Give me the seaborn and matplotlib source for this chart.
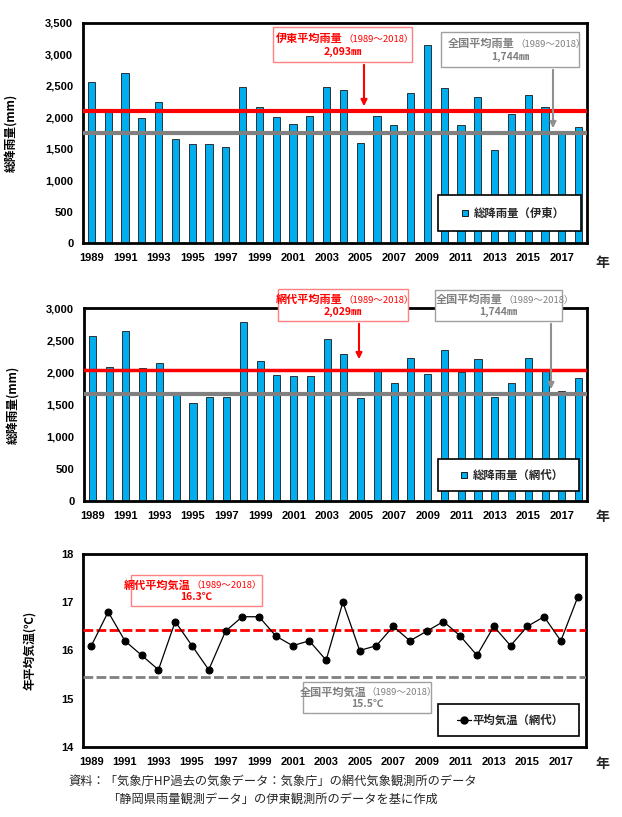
import matplotlib
matplotlib.use("Agg")
import matplotlib.pyplot as plt
import seaborn as sns
import pandas as pd
from matplotlib.patches import Rectangle, FancyArrowPatch
from matplotlib.lines import Line2D

# ---------------- data ----------------
years = list(range(1989, 2019))
ito_rain = [2560, 2080, 2700, 1990, 2250, 1650, 1580, 1570, 1530, 2480,
            2170, 2000, 1890, 2020, 2480, 2430, 1590, 2020, 1870, 2390,
            3150, 2460, 1880, 2330, 1480, 2060, 2350, 2160, 1780, 1850]
ajiro_rain = [2560, 2080, 2640, 2070, 2150, 1700, 1520, 1610, 1610, 2780,
              2170, 1960, 1950, 1940, 2520, 2290, 1600, 2050, 1840, 2230,
              1980, 2350, 2010, 2200, 1610, 1840, 2230, 2020, 1710, 1910]
ajiro_temp = [16.1, 16.8, 16.2, 15.9, 15.6, 16.6, 16.1, 15.6, 16.4, 16.7,
              16.7, 16.3, 16.1, 16.2, 15.8, 17.0, 16.0, 16.1, 16.5, 16.2,
              16.4, 16.6, 16.3, 15.9, 16.5, 16.1, 16.5, 16.7, 16.2, 17.1]
ito_avg_line = 2093
ito_nat_line = 1750
ajiro_avg_line = 2029
ajiro_nat_line = 1670
temp_avg_line = 16.43
temp_nat_line = 15.46

ito_avg_text = ["伊東平均雨量", "（1989～2018）", "2,093㎜"]
ajiro_avg_text = ["網代平均雨量", "（1989～2018）", "2,029㎜"]
nat_rain_text = ["全国平均雨量", "（1989～2018）", "1,744㎜"]
temp_avg_text = ["網代平均気温", "（1989～2018）", "16.3℃"]
nat_temp_text = ["全国平均気温", "（1989～2018）", "15.5℃"]
rain_yticks = [0, 500, 1000, 1500, 2000, 2500, 3000, 3500]
rain_yticks2 = [0, 500, 1000, 1500, 2000, 2500, 3000]
temp_yticks = [14, 15, 16, 17, 18]
footer = ["資料：「気象庁HP過去の気象データ：気象庁」の網代気象観測所のデータ",
          "「静岡県雨量観測データ」の伊東観測所のデータを基に作成"]

# ---------------- style ----------------
sns.set_theme(style="white")
JP = ["Noto Sans CJK JP", "DejaVu Sans"]
plt.rcParams["font.family"] = JP
NUM = ["Liberation Sans", "DejaVu Sans"]
BLUE = "#00AEEF"
RED = "#FF0000"
GRAY = "#808080"

W, H = 622, 817
fig = plt.figure(figsize=(W / 100, H / 100), dpi=100)


def fx(x):
    return x / W


def fy(y):
    return 1 - y / H


def make_ax(left, top, right, bottom):
    return fig.add_axes([fx(left), fy(bottom), fx(right - left), (bottom - top) / H])


def style_ax(ax, yticks, ylabel, ylabel_x):
    ax.set_xlim(-0.5, len(years) - 0.5)
    ax.set_ylim(yticks[0], yticks[-1])
    ax.set_yticks(yticks)
    if yticks[-1] > 100:
        ax.set_yticklabels([f"{v:,}" for v in yticks])
    ax.set_xticks(range(0, len(years), 2))
    ax.set_xticklabels([str(y) for y in years[::2]])
    ax.set_xticks([b - 0.5 for b in range(4, len(years), 4)], minor=True)
    ax.tick_params(axis="x", which="major", length=0, pad=7)
    ax.tick_params(axis="x", which="minor", length=3, direction="in", width=0.8, color="black")
    ax.tick_params(axis="y", length=0, pad=7)
    for lab in ax.get_xticklabels() + ax.get_yticklabels():
        lab.set_fontfamily(NUM)
        lab.set_fontweight("bold")
        lab.set_fontsize(8)
        lab.set_color("black")
    for s in ax.spines.values():
        s.set_color("black")
        s.set_linewidth(2)
    ax.set_xlabel("")
    ax.set_ylabel(ylabel, fontsize=8.5, fontweight="bold", color="black")
    ax.yaxis.set_label_coords(ylabel_x, 0.5)
    ax.grid(False)


def text_box(x0, y0, x1, y1, lines, color, edge, arrow_x=None, arrow_y=None, split_x=None):
    fig.patches.append(Rectangle((fx(x0), fy(y1)), fx(x1 - x0), (y1 - y0) / H,
                                 transform=fig.transFigure, facecolor="white",
                                 edgecolor=edge, linewidth=1, zorder=10))
    ly1 = y0 + (y1 - y0) * 0.32
    ly2 = y0 + (y1 - y0) * 0.72
    fig.text(fx(split_x), fy(ly1), lines[0], ha="right", va="center", color=color,
             fontsize=8, fontweight="bold", zorder=11)
    fig.text(fx(split_x), fy(ly1), lines[1], ha="left", va="center", color=color,
             fontsize=6.8, zorder=11)
    fig.text(fx((x0 + x1) / 2), fy(ly2), lines[2], ha="center", va="center", color=color,
             fontsize=7.5, fontweight="bold", zorder=11)
    if arrow_x is not None:
        fig.add_artist(FancyArrowPatch(
            (fx(arrow_x), fy(y1)), (fx(arrow_x), fy(arrow_y)),
            transform=fig.transFigure, arrowstyle="-|>", mutation_scale=9,
            color=color if color == RED else "#909090", linewidth=1.5, zorder=9))


def legend_box(ax, x0, y0, x1, y1, handle, label):
    ax.add_patch(Rectangle((fx(x0), fy(y1)), fx(x1 - x0), (y1 - y0) / H,
                           transform=fig.transFigure, facecolor="white",
                           edgecolor="black", linewidth=1.2, zorder=10, clip_on=False))
    leg = ax.legend([handle], [label], loc="center",
                    bbox_to_anchor=(fx((x0 + x1) / 2 + 2), fy((y0 + y1) / 2)),
                    bbox_transform=fig.transFigure, frameon=False,
                    prop={"family": JP, "weight": "bold", "size": 8.2},
                    handlelength=1.2, handletextpad=0.2)
    leg.set_zorder(12)


# ---------------- chart 1: Ito rainfall ----------------
ax1 = make_ax(83, 23, 587, 243)
df1 = pd.DataFrame({"year": [str(y) for y in years], "rain": ito_rain})
sns.barplot(data=df1, x="year", y="rain", color=BLUE, saturation=1, width=0.42,
            edgecolor="#1a1a1a", linewidth=0.6, ax=ax1)
ax1.axhline(ito_avg_line, color=RED, lw=3, zorder=5)
ax1.axhline(ito_nat_line, color=GRAY, lw=3, zorder=5)
style_ax(ax1, rain_yticks, "総降雨量(mm)", -0.131)
text_box(273, 27, 412, 62, ito_avg_text, RED, "#FF8080", arrow_x=364, arrow_y=109, split_x=343)
text_box(441, 32, 579, 67, nat_rain_text, GRAY, "#A0A0A0", arrow_x=553, arrow_y=131, split_x=515)
h1 = Line2D([], [], marker="s", linestyle="none", markersize=5, markerfacecolor=BLUE,
            markeredgecolor="black", markeredgewidth=0.6)
legend_box(ax1, 438, 195, 581, 231, h1, "総降雨量（伊東）")
fig.text(fx(602), fy(263), "年", ha="center", va="center", fontsize=10, fontweight="bold")

# ---------------- chart 2: Ajiro rainfall ----------------
ax2 = make_ax(84, 308, 587, 501)
df2 = pd.DataFrame({"year": [str(y) for y in years], "rain": ajiro_rain})
sns.barplot(data=df2, x="year", y="rain", color=BLUE, saturation=1, width=0.42,
            edgecolor="#1a1a1a", linewidth=0.6, ax=ax2)
ax2.axhline(ajiro_avg_line, color=RED, lw=2.5, zorder=5)
ax2.axhline(ajiro_nat_line, color=GRAY, lw=3, zorder=5)
style_ax(ax2, rain_yticks2, "総降雨量(mm)", -0.128)
text_box(278, 289, 408, 321, ajiro_avg_text, RED, "#FF8080", arrow_x=359, arrow_y=362, split_x=343)
text_box(435, 290, 562, 321, nat_rain_text, GRAY, "#A0A0A0", arrow_x=551, arrow_y=392, split_x=503)
legend_box(ax2, 438, 459, 579, 491, h1, "総降雨量（網代）")
fig.text(fx(602), fy(517), "年", ha="center", va="center", fontsize=10, fontweight="bold")

# ---------------- chart 3: Ajiro temperature ----------------
ax3 = make_ax(83, 554, 586, 747)
df3 = pd.DataFrame({"idx": list(range(len(years))), "temp": ajiro_temp})
sns.lineplot(data=df3, x="idx", y="temp", color="black", lw=0.9, marker="o",
             markersize=5, markeredgecolor="black", ax=ax3, zorder=6)
ax3.axhline(temp_avg_line, color=RED, lw=2, ls=(0, (3.5, 1.2)), zorder=5)
ax3.axhline(temp_nat_line, color=GRAY, lw=2, ls=(0, (3.5, 1.2)), zorder=5)
style_ax(ax3, temp_yticks, "年平均気温(℃)", -0.093)
text_box(131, 575, 262, 606, temp_avg_text, RED, "#FF8080", split_x=191)
text_box(303, 682, 431, 713, nat_temp_text, GRAY, "#A0A0A0", split_x=366)
h3 = Line2D([], [], color="black", lw=0.9, marker="o", markersize=5)
legend_box(ax3, 438, 704, 579, 736, h3, "平均気温（網代）")
fig.text(fx(602), fy(764), "年", ha="center", va="center", fontsize=10, fontweight="bold")

# ---------------- footer ----------------
fig.text(fx(68), fy(781), footer[0], ha="left", va="center", fontsize=8.8)
fig.text(fx(107), fy(799), footer[1], ha="left", va="center", fontsize=8.8)

fig.savefig("out.png", dpi=100)
